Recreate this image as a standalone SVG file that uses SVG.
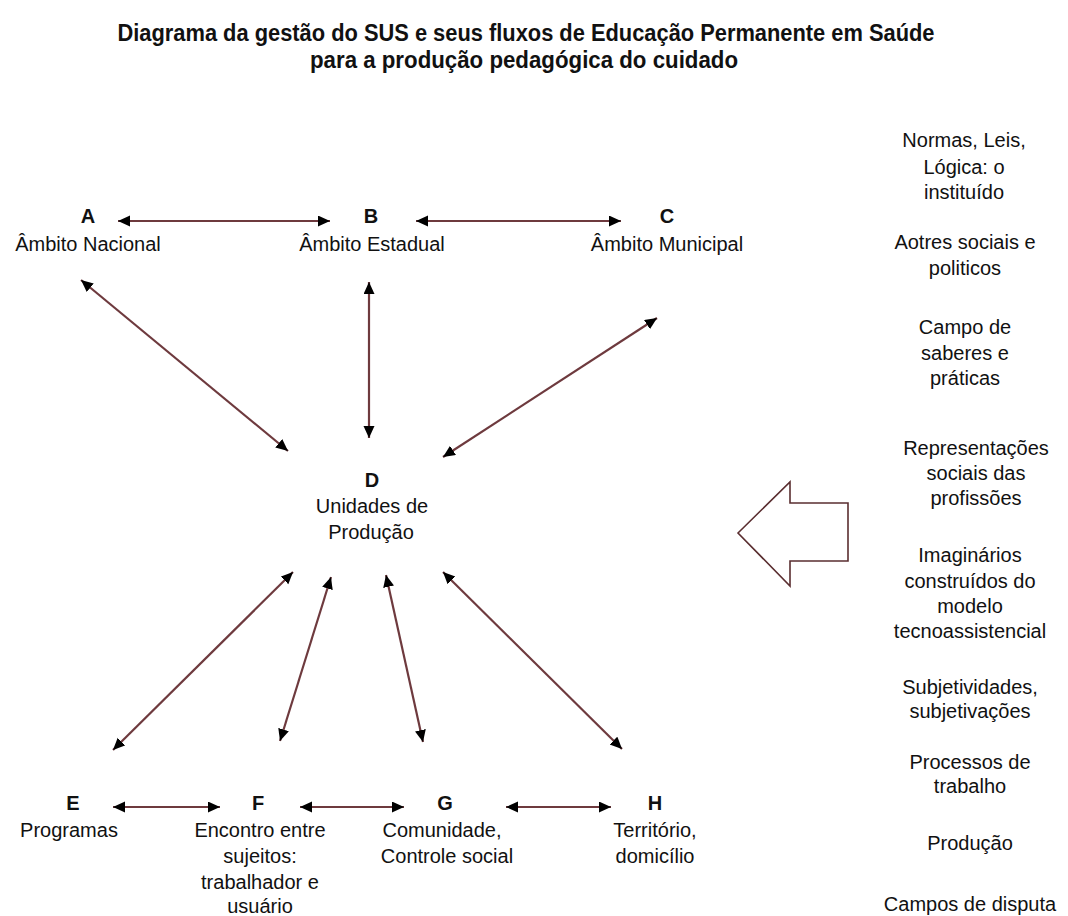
<svg xmlns="http://www.w3.org/2000/svg" width="1068" height="916" viewBox="0 0 1068 916">
<style>
text{font-family:"Liberation Sans",Arial,sans-serif;fill:#111;text-anchor:middle}
.t{font-size:23px;font-weight:bold}
.l{font-size:20px}
.k{font-size:20px;font-weight:bold}
.c{stroke:#6e3a3e;stroke-width:2.2;fill:none;marker-start:url(#ah);marker-end:url(#ah)}
</style>
<defs>
<marker id="ah" markerUnits="userSpaceOnUse" markerWidth="13" markerHeight="12" refX="12" refY="5.5" orient="auto-start-reverse">
<path d="M0,0 L12,5.5 L0,11 z" fill="#000"/>
</marker>
</defs>
<rect width="1068" height="916" fill="#fff"/>
<g id="title">
<text class="t" x="526" y="41" textLength="817" lengthAdjust="spacingAndGlyphs">Diagrama da gestão do SUS e seus fluxos de Educação Permanente em Saúde</text>
<text class="t" x="524" y="68" textLength="428" lengthAdjust="spacingAndGlyphs">para a produção pedagógica do cuidado</text>
</g>
<g id="connectors">
<line class="c" x1="118" y1="221" x2="330" y2="221"/>
<line class="c" x1="416" y1="221" x2="621" y2="221"/>
<line class="c" x1="81" y1="280" x2="288" y2="451"/>
<line class="c" x1="369" y1="282" x2="369" y2="438"/>
<line class="c" x1="657" y1="318" x2="443" y2="457"/>
<line class="c" x1="293" y1="572" x2="113" y2="750"/>
<line class="c" x1="331" y1="577" x2="280" y2="741"/>
<line class="c" x1="386" y1="575" x2="423" y2="742"/>
<line class="c" x1="443" y1="572" x2="622" y2="749"/>
<line class="c" x1="113" y1="807" x2="220" y2="807"/>
<line class="c" x1="300" y1="807" x2="404" y2="807"/>
<line class="c" x1="506" y1="807" x2="611" y2="807"/>
</g>
<g id="nodeA">
<text class="k" x="88" y="223">A</text>
<text class="l" x="88" y="251">Âmbito Nacional</text>
</g>
<g id="nodeB">
<text class="k" x="371" y="223">B</text>
<text class="l" x="372" y="251">Âmbito Estadual</text>
</g>
<g id="nodeC">
<text class="k" x="667" y="223">C</text>
<text class="l" x="667" y="251">Âmbito Municipal</text>
</g>
<g id="nodeD">
<text class="k" x="372" y="487">D</text>
<text class="l" x="372" y="513">Unidades de</text>
<text class="l" x="371" y="539">Produção</text>
</g>
<g id="nodeE">
<text class="k" x="73" y="810">E</text>
<text class="l" x="69" y="837">Programas</text>
</g>
<g id="nodeF">
<text class="k" x="258" y="810">F</text>
<text class="l" x="260" y="837">Encontro entre</text>
<text class="l" x="260" y="863">sujeitos:</text>
<text class="l" x="260" y="889">trabalhador e</text>
<text class="l" x="260" y="913">usuário</text>
</g>
<g id="nodeG">
<text class="k" x="445" y="810">G</text>
<text class="l" x="442" y="837">Comunidade,</text>
<text class="l" x="447" y="863">Controle social</text>
</g>
<g id="nodeH">
<text class="k" x="655" y="810">H</text>
<text class="l" x="655" y="837">Território,</text>
<text class="l" x="655" y="863">domicílio</text>
</g>
<g id="bigArrow">
<path d="M738,533 L790,482 L790,503 L848,503 L848,561 L790,561 L790,586 Z" fill="#fff" stroke="#5a2e30" stroke-width="1.6" stroke-linejoin="miter"/>
</g>
<g id="factors">
<text class="l" x="964" y="147">Normas, Leis,</text>
<text class="l" x="964" y="174">Lógica: o</text>
<text class="l" x="964" y="199">instituído</text>
<text class="l" x="965" y="249">Aotres sociais e</text>
<text class="l" x="965" y="275">politicos</text>
<text class="l" x="965" y="334">Campo de</text>
<text class="l" x="965" y="360">saberes e</text>
<text class="l" x="965" y="385">práticas</text>
<text class="l" x="976" y="455">Representações</text>
<text class="l" x="976" y="480">sociais das</text>
<text class="l" x="976" y="505">profissões</text>
<text class="l" x="970" y="562">Imaginários</text>
<text class="l" x="970" y="588">construídos do</text>
<text class="l" x="970" y="613">modelo</text>
<text class="l" x="970" y="638">tecnoassistencial</text>
<text class="l" x="970" y="694">Subjetividades,</text>
<text class="l" x="970" y="718">subjetivações</text>
<text class="l" x="970" y="769">Processos de</text>
<text class="l" x="970" y="793">trabalho</text>
<text class="l" x="970" y="850">Produção</text>
<text class="l" x="970" y="911">Campos de disputa</text>
</g>
</svg>
